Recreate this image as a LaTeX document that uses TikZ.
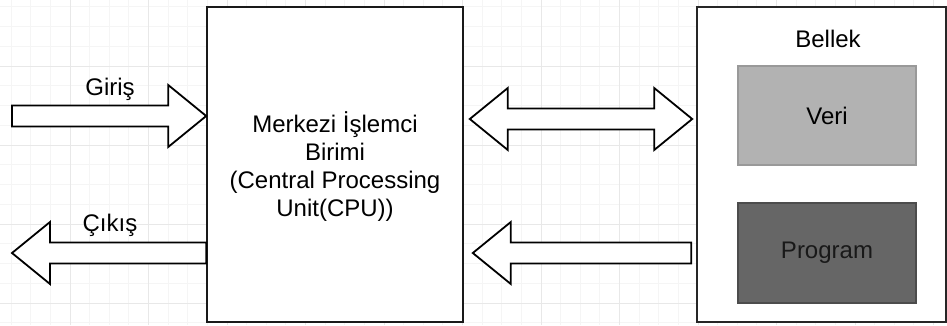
\documentclass[tikz,border=0pt]{standalone}
\usepackage{fontspec}
\setmainfont{Liberation Sans}
\usetikzlibrary{calc}

\tikzset{
  cpubox/.style={draw=black!90, line width=1.6pt, fill=white, minimum width=256pt, minimum height=315pt, inner sep=0pt, align=center},
  membox/.style={draw=black!85, line width=1.6pt, fill=white, minimum width=249pt, minimum height=315pt, inner sep=0pt},
  veribox/.style={draw=black!40, fill=black!30, line width=1.2pt, minimum width=178pt, minimum height=99pt},
  progbox/.style={draw=black!70, fill=black!60, line width=1.2pt, minimum width=178pt, minimum height=100pt},
  bigarrow/.style={draw=black, line width=1.8pt, fill=white, line join=miter},
  gridminor/.style={draw=black!4, line width=0.8pt},
  gridmajor/.style={draw=black!9, line width=0.8pt}
}

% block arrow from tail (#1) to tip (#2)
\newcommand{\onearrow}[2]{
  \path ($(#2)!38pt!(#1)$) coordinate (hb);
  \draw[bigarrow] ($(#1)!10.5pt!90:(#2)$) -- ($(hb)!10.5pt!90:(#2)$)
    -- ($(hb)!31pt!90:(#2)$) -- (#2) -- ($(hb)!31pt!-90:(#2)$)
    -- ($(hb)!10.5pt!-90:(#2)$) -- ($(#1)!10.5pt!-90:(#2)$) -- cycle;
}
% block arrow with two heads
\newcommand{\twoarrow}[2]{
  \path ($(#1)!38pt!(#2)$) coordinate (ha) ($(#2)!38pt!(#1)$) coordinate (hb);
  \draw[bigarrow] (#1) -- ($(ha)!31pt!90:(#2)$) -- ($(ha)!10.5pt!90:(#2)$)
    -- ($(hb)!10.5pt!90:(#2)$) -- ($(hb)!31pt!90:(#2)$) -- (#2)
    -- ($(hb)!31pt!-90:(#2)$) -- ($(hb)!10.5pt!-90:(#2)$)
    -- ($(ha)!10.5pt!-90:(#2)$) -- ($(ha)!31pt!-90:(#2)$) -- cycle;
}

\begin{document}
\begin{tikzpicture}[x=1pt, y=1pt, font=\fontsize{24pt}{28pt}\selectfont]
\useasboundingbox (0,0) rectangle (947,325);

% background grid
\begin{scope}[shift={(70,259)}]
\draw[gridminor, xstep=19.625pt, ystep=19.75pt] (-70,-259) grid (877,66);
\draw[gridmajor, xstep=78.5pt, ystep=79pt] (-70,-259) grid (877,66);
\end{scope}

% boxes
\node[cpubox] (cpu) at (335,160.5) {};
\node[align=center] (cputext) at (335,158) {Merkezi İşlemci\\Birimi\\(Central Processing\\Unit(CPU))};
\node[membox] (mem) at (821.5,160.5) {};
\node (bellek) at (828,286) {Bellek};
\node[veribox] (veri) at (827,209.5) {Veri};
\node[progbox, text=black!90] (prog) at (827,72) {Program};

% input / output
\coordinate (in0) at (12,209);
\coordinate (in1) at (cpu.west |- in0);
\coordinate (out0) at (cpu.west |- 0,72);
\coordinate (out1) at (12,72);
\onearrow{in0}{in1}
\onearrow{out0}{out1}
\node (giris) at (110,236) {Giriş};
\node (cikis) at (110,100) {Çıkış};

% cpu <-> memory
\coordinate (bus0) at ($(cpu.east |- 0,206)+(6,0)$);
\coordinate (bus1) at ($(mem.west |- 0,206)+(-4,0)$);
\twoarrow{bus0}{bus1}
\coordinate (pr0) at ($(mem.west |- 0,72)+(-5,0)$);
\coordinate (pr1) at ($(cpu.east |- 0,72)+(9,0)$);
\onearrow{pr0}{pr1}
\end{tikzpicture}
\end{document}
